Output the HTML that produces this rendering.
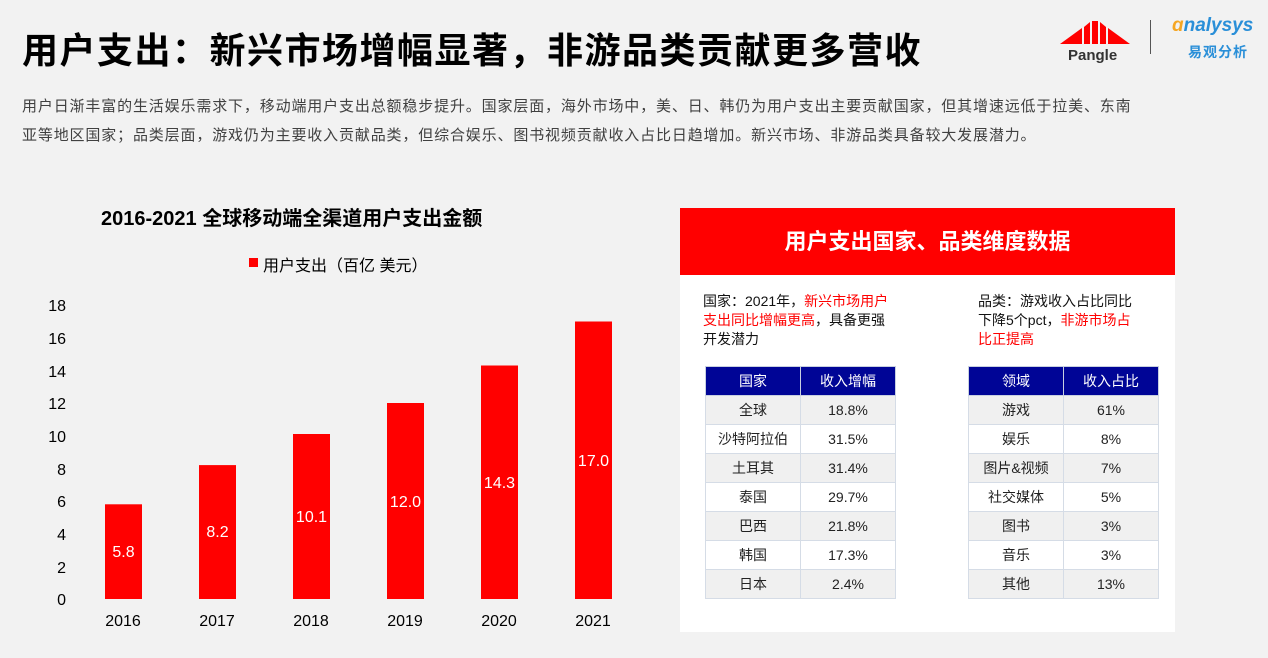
<!DOCTYPE html>
<html><head><meta charset="utf-8"><style>
body{margin:0;width:1268px;height:658px;background:#f2f2f2;overflow:hidden;position:relative;font-family:"Liberation Sans","Noto Sans CJK SC",sans-serif;}
.a{position:absolute;white-space:nowrap}
table{border-collapse:collapse;position:absolute;font-size:14px;color:#222;}
td,th{border:1px solid #d5dce6;text-align:center;padding:0;height:28px;}
th{background:#000596;color:#fff;font-weight:normal;height:28px;border-color:#c8d0e0;}
tr.g td{background:#f0f0f0}tr.w td{background:#fff}
.r{color:#f00}
</style></head><body>
<div class="a" style="left:22px;top:22px;font-size:36px;font-weight:bold;color:#000;letter-spacing:1.5px">用户支出：新兴市场增幅显著，非游品类贡献更多营收</div>
<div class="a" style="left:22px;top:92px;font-size:15px;color:#404040;letter-spacing:0.85px;line-height:29px">用户日渐丰富的生活娱乐需求下，移动端用户支出总额稳步提升。国家层面，海外市场中，美、日、韩仍为用户支出主要贡献国家，但其增速远低于拉美、东南<br>亚等地区国家；品类层面，游戏仍为主要收入贡献品类，但综合娱乐、图书视频贡献收入占比日趋增加。新兴市场、非游品类具备较大发展潜力。</div>
<!-- logos -->
<svg class="a" style="left:1058px;top:18px" width="80" height="30"><polygon points="2,26 24,10 24,26" fill="#f00"/><polygon points="26,9 32,4 32,26 26,26" fill="#f00"/><polygon points="34,3 40,3 40,26 34,26" fill="#f00"/><polygon points="42,4 48,9 48,26 42,26" fill="#f00"/><polygon points="50,10 72,26 50,26" fill="#f00"/></svg>
<div class="a" style="left:1068px;top:47px;font-size:15px;font-weight:bold;color:#333">Pangle</div>
<div class="a" style="left:1150px;top:20px;width:1px;height:34px;background:#555"></div>
<div class="a" style="left:1172px;top:15px;font-size:19px;font-style:italic;color:#2a8fd8;font-weight:bold"><span style="color:#f5a623">ɑ</span>nalysys</div>
<div class="a" style="left:1188px;top:42px;font-size:14px;color:#2a8fd8;font-weight:bold;letter-spacing:1px">易观分析</div>
<!-- chart -->
<div class="a" style="left:101px;top:202px;font-size:20px;font-weight:bold;color:#000">2016-2021 全球移动端全渠道用户支出金额</div>
<div class="a" style="left:249px;top:258px;width:9px;height:9px;background:#f00"></div>
<div class="a" style="left:263px;top:252px;font-size:16px;color:#000">用户支出（百亿 美元）</div>
<svg class="a" style="left:0;top:0" width="660" height="658" font-family="Liberation Sans, sans-serif">
<g font-size="16" fill="#000" text-anchor="end">
<text x="66" y="605">0</text><text x="66" y="573">2</text><text x="66" y="540">4</text><text x="66" y="507">6</text><text x="66" y="475">8</text><text x="66" y="442">10</text><text x="66" y="409">12</text><text x="66" y="377">14</text><text x="66" y="344">16</text><text x="66" y="311">18</text>
</g>
<g fill="#f00">
<rect x="105" y="504.3" width="37" height="94.7"/><rect x="199" y="465.1" width="37" height="133.9"/><rect x="293" y="434" width="37" height="165"/><rect x="387" y="403" width="37" height="196"/><rect x="481" y="365.5" width="37" height="233.5"/><rect x="575" y="321.5" width="37" height="277.5"/>
</g>
<g font-size="16" fill="#fff" text-anchor="middle">
<text x="123.5" y="557">5.8</text><text x="217.5" y="537">8.2</text><text x="311.5" y="522">10.1</text><text x="405.5" y="507">12.0</text><text x="499.5" y="488">14.3</text><text x="593.5" y="466">17.0</text>
</g>
<g font-size="16" fill="#000" text-anchor="middle">
<text x="123" y="626">2016</text><text x="217" y="626">2017</text><text x="311" y="626">2018</text><text x="405" y="626">2019</text><text x="499" y="626">2020</text><text x="593" y="626">2021</text>
</g>
</svg>
<!-- right panel -->
<div class="a" style="left:680px;top:208px;width:495px;height:424px;background:#fff"></div>
<div class="a" style="left:680px;top:208px;width:495px;height:67px;background:#f00;color:#fff;font-size:22px;font-weight:bold;text-align:center;line-height:67px">用户支出国家、品类维度数据</div>
<div class="a" style="left:703px;top:292px;font-size:14px;line-height:19px;color:#111">国家：2021年，<span class="r">新兴市场用户</span><br><span class="r">支出同比增幅更高</span>，具备更强<br>开发潜力</div>
<div class="a" style="left:978px;top:292px;font-size:14px;line-height:19px;color:#111">品类：游戏收入占比同比<br>下降5个pct，<span class="r">非游市场占</span><br><span class="r">比正提高</span></div>
<table style="left:705px;top:366px;width:191px">
<tr><th style="width:94px">国家</th><th>收入增幅</th></tr>
<tr class="g"><td>全球</td><td>18.8%</td></tr>
<tr class="w"><td>沙特阿拉伯</td><td>31.5%</td></tr>
<tr class="g"><td>土耳其</td><td>31.4%</td></tr>
<tr class="w"><td>泰国</td><td>29.7%</td></tr>
<tr class="g"><td>巴西</td><td>21.8%</td></tr>
<tr class="w"><td>韩国</td><td>17.3%</td></tr>
<tr class="g"><td>日本</td><td>2.4%</td></tr>
</table>
<table style="left:968px;top:366px;width:191px">
<tr><th style="width:94px">领域</th><th>收入占比</th></tr>
<tr class="g"><td>游戏</td><td>61%</td></tr>
<tr class="w"><td>娱乐</td><td>8%</td></tr>
<tr class="g"><td>图片&amp;视频</td><td>7%</td></tr>
<tr class="w"><td>社交媒体</td><td>5%</td></tr>
<tr class="g"><td>图书</td><td>3%</td></tr>
<tr class="w"><td>音乐</td><td>3%</td></tr>
<tr class="g"><td>其他</td><td>13%</td></tr>
</table>
</body></html>
